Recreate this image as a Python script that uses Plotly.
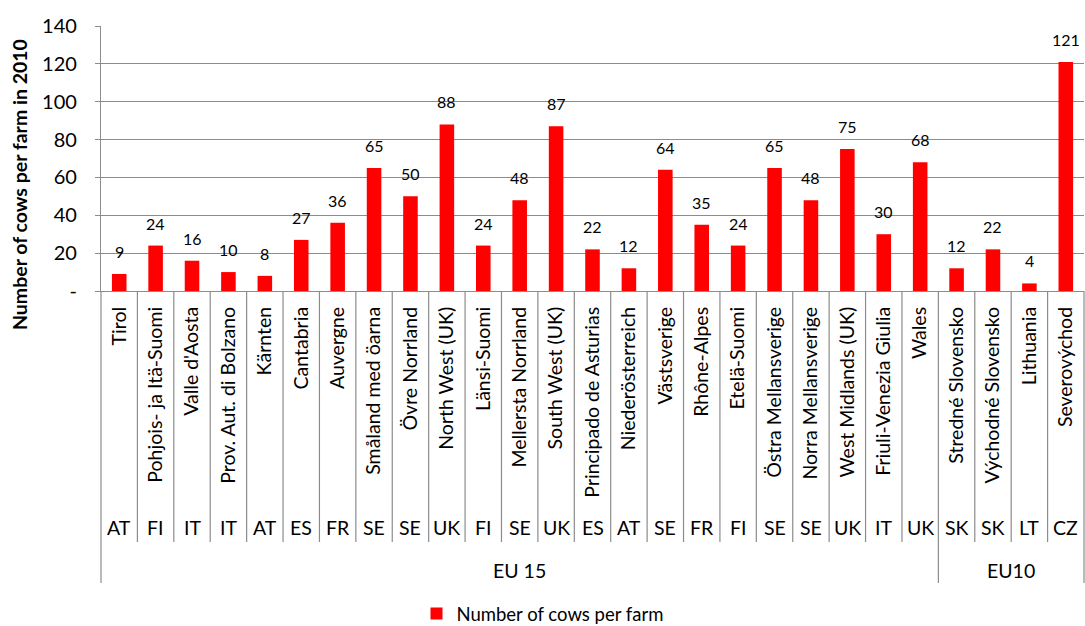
import plotly.graph_objects as go

regions = ["Tirol", "Pohjois- ja Itä-Suomi", "Valle d'Aosta", "Prov. Aut. di Bolzano", "Kärnten",
           "Cantabria", "Auvergne", "Småland med öarna", "Övre Norrland", "North West (UK)",
           "Länsi-Suomi", "Mellersta Norrland", "South West (UK)", "Principado de Asturias",
           "Niederösterreich", "Västsverige", "Rhône-Alpes", "Etelä-Suomi", "Östra Mellansverige",
           "Norra Mellansverige", "West Midlands (UK)", "Friuli-Venezia Giulia", "Wales",
           "Stredné Slovensko", "Východné Slovensko", "Lithuania", "Severovýchod"]
countries = ["AT", "FI", "IT", "IT", "AT", "ES", "FR", "SE", "SE", "UK", "FI", "SE", "UK", "ES",
             "AT", "SE", "FR", "FI", "SE", "SE", "UK", "IT", "UK", "SK", "SK", "LT", "CZ"]
group_names = ["EU 15", "EU10"]
group_sizes = [23, 4]
cows = [9, 24, 16, 10, 8, 27, 36, 65, 50, 88, 24, 48, 87, 22, 12, 64, 35, 24, 65, 48, 75, 30, 68,
        12, 22, 4, 121]
y_ticks = [0, 20, 40, 60, 80, 100, 120, 140]
y_ticktext = ["-", "20", "40", "60", "80", "100", "120", "140"]

FONT = "Lato, 'Open Sans', sans-serif"
GRID = "#8c8c8c"
W, H = 1085, 626
L, R, T, B = 101, 1, 26, 335
PH = H - T - B  # plot height in px


def py(px):
    """pixel y (from top) -> paper y"""
    return (H - B - px) / PH


idx = list(range(len(regions)))

fig = go.Figure()
fig.add_trace(go.Bar(
    x=idx, y=cows, width=0.4, marker=dict(color="#FF0000", line=dict(width=0)),
    name="Number of cows per farm", showlegend=True,
))

# data labels
for i, v in zip(idx, cows):
    fig.add_annotation(x=i, y=v, xref="x", yref="y", text=str(v), showarrow=False,
                       yanchor="bottom", yshift=11, font=dict(family=FONT, size=16, color="#000"))

# country labels
for i, c in zip(idx, countries):
    fig.add_annotation(x=i, y=py(527), xref="x", yref="paper", text=c, showarrow=False,
                       yanchor="middle", font=dict(family=FONT, size=19.5, color="#000"))

# group labels and boundaries
start = 0
bounds = []
for g, n in zip(group_names, group_sizes):
    center = start + (n - 1) / 2
    fig.add_annotation(x=center, y=py(571), xref="x", yref="paper", text=g, showarrow=False,
                       yanchor="middle", font=dict(family=FONT, size=19.5, color="#000"))
    start += n
    bounds.append(start - 0.5)

line_style = dict(color=GRID, width=1.2)
# inner separators
for k in range(1, len(regions)):
    b = k - 0.5
    if b in bounds:
        continue
    fig.add_shape(type="line", xref="x", yref="paper", x0=b, x1=b, y0=0, y1=py(542),
                  line=line_style)
# outer separators
for b in bounds[:-1]:
    fig.add_shape(type="line", xref="x", yref="paper", x0=b, x1=b, y0=0, y1=py(583),
                  line=line_style)
for xp in (0, 1):
    fig.add_shape(type="line", xref="paper", yref="paper", x0=xp, x1=xp, y0=0, y1=py(583),
                  line=line_style)

# y-axis title
fig.add_annotation(x=(19 - L) / (W - L - R), y=py(185), xref="paper", yref="paper",
                   text="<b>Number of cows per farm in 2010</b>", textangle=-90, showarrow=False,
                   xanchor="center", font=dict(family=FONT, size=19.5, color="#000"))

fig.update_layout(
    width=W, height=H,
    margin=dict(l=L, r=R, t=T, b=B, pad=0),
    paper_bgcolor="white", plot_bgcolor="white",
    font=dict(family=FONT, color="#000"),
    legend=dict(orientation="h", xref="container", yref="container", x=0.5, xanchor="center",
                y=(H - 614) / H, yanchor="middle", font=dict(family=FONT, size=18.5, color="#000"),
                itemwidth=30),
)
fig.update_xaxes(
    range=[-0.5, len(regions) - 0.5], tickmode="array", tickvals=idx, ticktext=regions,
    tickangle=-90, ticks="", showgrid=False, zeroline=False, showline=True, linecolor=GRID,
    linewidth=1.2, tickfont=dict(family=FONT, size=19.5, color="#000"), automargin=False,
    ticklabelstandoff=7,
)
fig.update_yaxes(
    range=[0, 140], tickmode="array", tickvals=y_ticks, ticktext=y_ticktext,
    showgrid=True, gridcolor=GRID, gridwidth=1, zeroline=False, showline=True, linecolor=GRID,
    linewidth=1.2, ticks="outside", ticklen=5, tickcolor=GRID,
    tickfont=dict(family=FONT, size=20, color="#000"), automargin=False, ticklabelstandoff=14,
)

fig.write_html("out.html", post_script="document.body.style.margin='0';",
               config={"displayModeBar": False})
